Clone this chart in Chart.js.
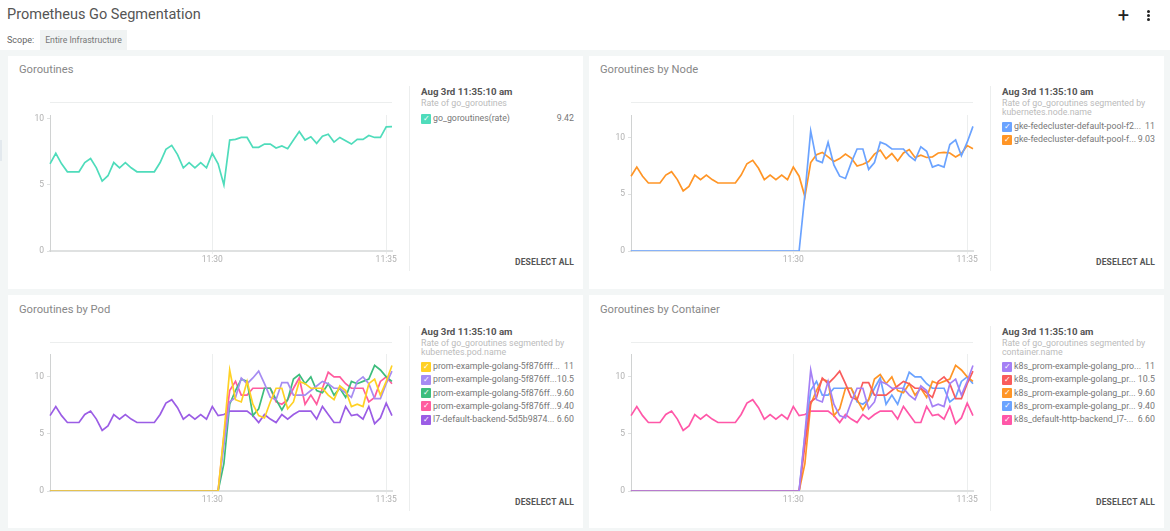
<!DOCTYPE html>
<html>
<head>
<meta charset="utf-8">
<title>Prometheus Go Segmentation</title>
<script src="https://cdn.jsdelivr.net/npm/chart.js@4"></script>
<style>
  html, body { margin: 0; padding: 0; background: #f3f6f6; font-family: Roboto, sans-serif; overflow: hidden; }
  #page { position: relative; width: 1170px; height: 531px; }
  #header { position: absolute; left: 0; top: 0; width: 1170px; height: 50px; background: #fff; }
  #title { position: absolute; left: 7px; top: 5px; font-size: 14.5px; line-height: 20px; color: #555; }
  #scope { position: absolute; left: 7px; top: 34px; font-size: 9px; line-height: 12px; color: #666; }
  #chip { position: absolute; left: 40px; top: 30px; width: 87px; height: 20px; background: #f0f3f3; font-size: 8.7px; line-height: 20px; text-align: center; color: #777; }
  #plus { position: absolute; left: 1116px; top: 3px; width: 15px; font-size: 20px; font-weight: 400; line-height: 24px; text-align: center; color: #222; }
  .dot { position: absolute; left: 1147px; width: 3px; height: 3px; border-radius: 50%; background: #222; }
  #handle { position: absolute; left: 0; top: 140px; width: 2px; height: 21px; background: #e3e9ee; }
  .card { position: absolute; width: 575px; height: 233px; background: #fff; }
  .inner { position: absolute; left: 0; width: 575px; height: 232px; }
  .inner h2 { position: absolute; left: 11px; top: 6px; margin: 0; font-size: 11.2px; line-height: 15px; font-weight: 400; color: #888; }
  .inner canvas { position: absolute; left: 0; top: 54px; }
  .rule { position: absolute; left: 42px; top: 46px; width: 342px; height: 1px; background: #eceeee; }
  .side { position: absolute; left: 401px; top: 30px; width: 165px; height: 185px; border-left: 1px solid #eceeee; }
  .when { position: absolute; left: 11px; top: 0; font-size: 9.7px; line-height: 12px; font-weight: 700; color: #555; white-space: nowrap; }
  .sub { position: absolute; left: 11px; top: 13px; width: 145px; font-size: 8.8px; line-height: 8.5px; color: #bbb; }
  .rows { position: absolute; left: 11px; width: 153px; }
  .row { position: relative; height: 13.3px; font-size: 8.8px; line-height: 13px; color: #777; white-space: nowrap; }
  .box { position: absolute; left: 0; top: 1.5px; width: 10px; height: 10px; border-radius: 1px; color: #fff; font-size: 8px; line-height: 10px; text-align: center; }
  .name { position: absolute; left: 12px; top: 0; }
  .val { position: absolute; right: 0; top: 0; }
  .off { position: absolute; right: 9px; top: 200px; font-size: 8.5px; line-height: 12px; font-weight: 700; letter-spacing: 0.15px; color: #555; }
</style>
</head>
<body>
<div id="page">
  <div id="header">
    <div id="title">Prometheus Go Segmentation</div>
    <div id="scope">Scope:</div>
    <div id="chip">Entire Infrastructure</div>
    <div id="plus">+</div>
    <div class="dot" style="top:10px"></div>
    <div class="dot" style="top:14px"></div>
    <div class="dot" style="top:18px"></div>
  </div>
  <div id="handle"></div>
</div>
<script>
// 60 samples, one every 10 seconds
const timeLabels = Array(60).fill("");
timeLabels[28] = "11:30";
timeLabels[58] = "11:35";

const totalRate = [6.6, 7.4, 6.6, 6, 6, 6, 6.7, 7, 6.3, 5.3, 5.7, 6.7, 6.3, 6.7, 6.3, 6, 6, 6, 6, 6.7, 7.7, 8, 7.3, 6.3, 6.7, 6.3, 6.7, 6.3, 7.4, 6.6, 5, 8.4, 8.45, 8.6, 8.6, 7.85, 7.85, 8.1, 8.1, 7.8, 7.95, 7.75, 8.4, 9.05, 8.4, 8.65, 8.15, 8.7, 8.85, 8.25, 8.6, 8.35, 8.1, 8.45, 8.45, 8.75, 8.6, 8.6, 9.4, 9.42];

const nodeF2 = [0, 0, 0, 0, 0, 0, 0, 0, 0, 0, 0, 0, 0, 0, 0, 0, 0, 0, 0, 0, 0, 0, 0, 0, 0, 0, 0, 0, 0, 0, 5, 10.6, 8, 7.8, 9.6, 7.6, 6.6, 6.4, 7.8, 9, 9, 7.2, 7.8, 9.6, 9.4, 9, 9, 9, 8.4, 8, 9.2, 8.8, 7.4, 7.6, 7.4, 9.4, 9.8, 8.4, 9.6, 11];
const nodeF = [6.6, 7.4, 6.6, 6, 6, 6, 6.7, 7, 6.3, 5.3, 5.7, 6.7, 6.3, 6.7, 6.3, 6, 6, 6, 6, 6.7, 7.7, 8, 7.3, 6.3, 6.7, 6.3, 6.7, 6.3, 7.4, 6.6, 4.8, 7.8, 8.5, 8.7, 8.3, 7.9, 8.15, 8.55, 8.2, 7.5, 7.65, 7.9, 8.55, 8.9, 8.15, 8.6, 7.95, 8.65, 8.95, 8.25, 8.45, 8.25, 8.3, 8.65, 8.7, 8.65, 8.3, 8.6, 9.3, 9.03];

const podA = nodeF2;
const podB = [0, 0, 0, 0, 0, 0, 0, 0, 0, 0, 0, 0, 0, 0, 0, 0, 0, 0, 0, 0, 0, 0, 0, 0, 0, 0, 0, 0, 0, 0, 4, 7.8, 8.2, 9.9, 9.4, 9.9, 10.5, 9.4, 8.2, 8, 9.5, 9.5, 8.4, 8.4, 8.4, 8.8, 9.2, 9.6, 9.4, 9, 9, 8.6, 8.2, 9.6, 10, 9.4, 8.1, 8.1, 9.4, 10.5];
const podC = [0, 0, 0, 0, 0, 0, 0, 0, 0, 0, 0, 0, 0, 0, 0, 0, 0, 0, 0, 0, 0, 0, 0, 0, 0, 0, 0, 0, 0, 0, 2.4, 7.6, 8.8, 9.8, 9.6, 6.6, 7.2, 9, 9, 8, 7.1, 8, 9.8, 10.2, 9.4, 10, 8.8, 8.6, 9.4, 8.4, 9, 8.2, 9.6, 9.4, 9.6, 9.8, 11, 10.6, 10, 9.6];
const podD = [0, 0, 0, 0, 0, 0, 0, 0, 0, 0, 0, 0, 0, 0, 0, 0, 0, 0, 0, 0, 0, 0, 0, 0, 0, 0, 0, 0, 0, 0, 4.8, 8.8, 9.6, 8.4, 8.4, 9, 9, 9, 9, 7.8, 7.6, 8, 9, 9.9, 7.6, 8.4, 7.6, 9, 10.4, 10, 10, 9.4, 9, 9, 9, 7.8, 8.2, 9.6, 10, 9.4];
const backend = [6.6, 7.4, 6.6, 6, 6, 6, 6.7, 7, 6.3, 5.3, 5.7, 6.7, 6.3, 6.7, 6.3, 6, 6, 6, 6, 6.7, 7.7, 8, 7.3, 6.3, 6.7, 6.3, 6.7, 6.3, 7.4, 6.6, 6.7, 7, 7, 7, 7, 6.6, 6, 6.7, 6.3, 6, 6.7, 6.3, 6.7, 7, 7, 7, 6.3, 7.4, 6.7, 6, 6, 7.4, 6.6, 6.7, 6.3, 7.4, 5.9, 6.4, 7.7, 6.6];

const yTicks = [0, 5, 10];

const panels = [
  {
    title: "Goroutines", x: 8, y: 56, shift: 0, max: 10.3, rowsTop: 26,
    sub: "Rate of go_goroutines",
    series: [["go_goroutines(rate)", "9.42", totalRate, "#4fdcbb"]]
  },
  {
    title: "Goroutines by Node", x: 589, y: 56, shift: 0, max: 12, rowsTop: 34,
    sub: "Rate of go_goroutines segmented by kubernetes.node.name",
    series: [
      ["gke-fedecluster-default-pool-f2...", "11", nodeF2, "#6ba3ff"],
      ["gke-fedecluster-default-pool-f...", "9.03", nodeF, "#ff9526"]
    ]
  },
  {
    title: "Goroutines by Pod", x: 8, y: 295, shift: 1, max: 12, rowsTop: 34,
    sub: "Rate of go_goroutines segmented by kubernetes.pod.name",
    series: [
      ["prom-example-golang-5f876fff...", "11", podA, "#ffd124"],
      ["prom-example-golang-5f876ff...", "10.5", podB, "#a68cf2"],
      ["prom-example-golang-5f876ff...", "9.60", podC, "#3dbd7d"],
      ["prom-example-golang-5f876ff...", "9.40", podD, "#ff5c9f"],
      ["l7-default-backend-5d5b9874...", "6.60", backend, "#9b5de5"]
    ]
  },
  {
    title: "Goroutines by Container", x: 589, y: 295, shift: 1, max: 12, rowsTop: 34,
    sub: "Rate of go_goroutines segmented by container.name",
    series: [
      ["k8s_prom-example-golang_pro...", "11", podA, "#a580f5"],
      ["k8s_prom-example-golang_pr...", "10.5", podB, "#f95c5c"],
      ["k8s_prom-example-golang_pr...", "9.60", podC, "#ff9526"],
      ["k8s_prom-example-golang_pr...", "9.40", podD, "#6ba3ff"],
      ["k8s_default-http-backend_l7-...", "6.60", backend, "#ff57a8"]
    ]
  }
];

const page = document.getElementById("page");

function el(parent, className, text) {
  const node = document.createElement("div");
  node.className = className;
  if (text !== undefined) node.textContent = text;
  parent.appendChild(node);
  return node;
}

// card with its legend column and chart
panels.forEach((panel) => {
  const card = el(page, "card");
  card.style.left = panel.x + "px";
  card.style.top = panel.y + "px";
  const inner = el(card, "inner");
  inner.style.top = panel.shift + "px";

  const head = document.createElement("h2");
  head.textContent = panel.title;
  inner.appendChild(head);
  el(inner, "rule");

  const side = el(inner, "side");
  el(side, "when", "Aug 3rd 11:35:10 am");
  el(side, "sub", panel.sub);
  const rows = el(side, "rows");
  rows.style.top = panel.rowsTop + "px";
  panel.series.forEach(([name, value, , color]) => {
    const row = el(rows, "row");
    const box = el(row, "box", "\u2713");
    box.style.background = color;
    el(row, "name", name);
    el(row, "val", value);
  });
  el(inner, "off", "DESELECT ALL");

  const canvas = document.createElement("canvas");
  canvas.width = 397;
  canvas.height = 160;
  canvas.style.width = "397px";
  canvas.style.height = "160px";
  inner.appendChild(canvas);

  new Chart(canvas, {
    type: "line",
    data: {
      labels: timeLabels,
      datasets: panel.series.map(([name, , values, color]) => ({
        label: name,
        data: values,
        borderColor: color,
        backgroundColor: color,
        borderWidth: 1.7,
        pointRadius: 0,
        tension: 0
      }))
    },
    options: {
      responsive: false,
      animation: false,
      layout: { padding: { top: 5 - panel.shift, right: 13, bottom: 0, left: 0 } },
      plugins: { legend: { display: false }, tooltip: { enabled: false } },
      scales: {
        x: {
          afterFit: (axis) => { axis.height = 19; },
          border: { color: "#dfe1e1", width: 2 },
          grid: {
            tickLength: 3,
            color: (ctx) => (timeLabels[ctx.index] ? "#eceeee" : "transparent")
          },
          ticks: {
            autoSkip: false,
            maxRotation: 0,
            padding: 1,
            color: "#b0b0b0",
            font: { family: "Roboto", size: 8.5 }
          }
        },
        y: {
          min: 0,
          max: panel.max,
          // the top tick sits below the axis end, no room needed for its label
          afterFit: (axis) => {
            axis.width = 42;
            axis.paddingTop = 0;
            axis.paddingBottom = 0;
          },
          afterBuildTicks: (axis) => { axis.ticks = yTicks.map((value) => ({ value })); },
          border: { color: "#d0d2d2", width: 1 },
          grid: { drawOnChartArea: false, tickLength: 3, color: "#dfe1e1" },
          ticks: {
            padding: 3,
            color: "#b0b0b0",
            font: { family: "Roboto", size: 8.5 }
          }
        }
      }
    }
  });
});
</script>
</body>
</html>
